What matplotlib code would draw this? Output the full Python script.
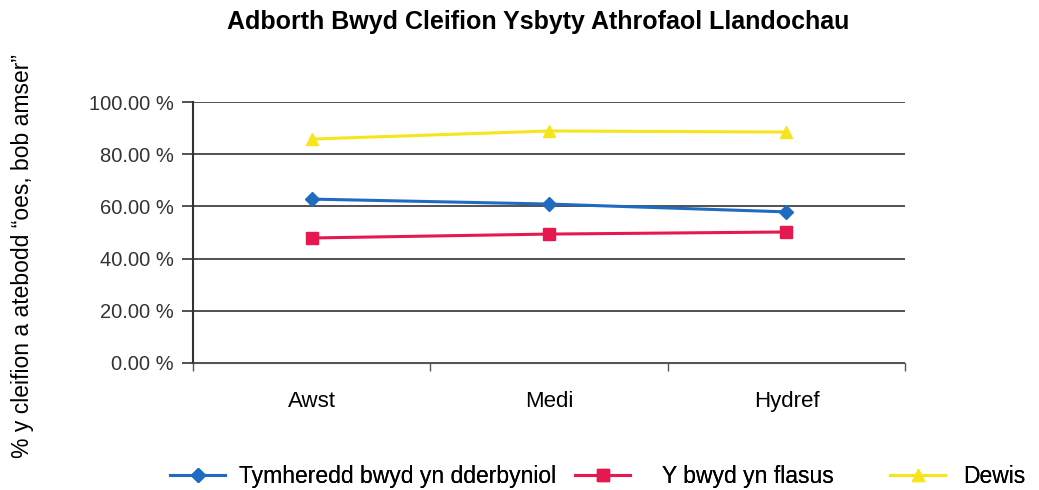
import numpy as np
import matplotlib.pyplot as plt
from matplotlib.ticker import FuncFormatter, MultipleLocator

plt.rcParams['font.family'] = ['Liberation Sans', 'DejaVu Sans']

# data
months = ['Awst', 'Medi', 'Hydref']
tymheredd = [62.8, 60.9, 57.9]
blasus = [47.9, 49.4, 50.2]
dewis = [85.8, 88.9, 88.5]

fig = plt.figure(figsize=(10.39, 4.9), dpi=100)
ax = fig.add_axes([0.1858, 0.2592, 0.6854, 0.5326])

x = np.arange(len(months))
l1, = ax.plot(x, tymheredd, color='#1f6bbf', marker='D', markersize=7, lw=2.2,
              label='Tymheredd bwyd yn dderbyniol')
l2, = ax.plot(x, blasus, color='#e5194f', marker='s', markersize=8, lw=2.2,
              label='Y bwyd yn flasus')
l3, = ax.plot(x, dewis, color='#f7e51c', marker='^', markersize=9, lw=2.2,
              label='Dewis')

ax.set_xlim(-0.5, 2.5)
ax.set_ylim(0, 100)
ax.yaxis.set_major_locator(MultipleLocator(20))
ax.yaxis.set_major_formatter(FuncFormatter(lambda v, p: f'{v:.2f} %'))
ax.yaxis.grid(True, color='#333333', lw=1.2)
ax.set_axisbelow(True)

ax.set_xticks(x)
ax.set_xticklabels(months, fontsize=16)
ax.set_xticks([-0.5, 0.5, 1.5, 2.5], minor=True)
ax.tick_params(axis='x', which='major', length=0, pad=20)
ax.tick_params(axis='x', which='minor', length=6, color='#555555', width=1)
ax.tick_params(axis='y', length=8, color='#333333', width=1.2, labelsize=14.5,
               labelcolor='#333333', pad=6)

for s in ['top', 'right']:
    ax.spines[s].set_visible(False)
ax.spines['bottom'].set_color('#555555')
ax.spines['left'].set_color('#333333')
ax.spines['left'].set_linewidth(1.5)

fig.text(0.518, 0.955, 'Adborth Bwyd Cleifion Ysbyty Athrofaol Llandochau',
         fontsize=18, fontweight='bold', ha='center', va='center')
fig.text(0.022, 0.477, '% y cleifion a atebodd \u201coes, bob amser\u201d',
         rotation=90, fontsize=16.5, ha='center', va='center')

# three legend entries placed like the original
for line, xpos, pad in [(l1, 170, 0.6), (l2, 575, 1.4), (l3, 890, 0.8)]:
    leg = fig.legend(handles=[line], loc='center left',
                     bbox_to_anchor=(xpos / 1039, 0.027), frameon=False,
                     fontsize=16.5, handlelength=2.4, handletextpad=pad,
                     borderpad=0, borderaxespad=0)
    fig.add_artist(leg)

fig.savefig('out.png', dpi=100)
